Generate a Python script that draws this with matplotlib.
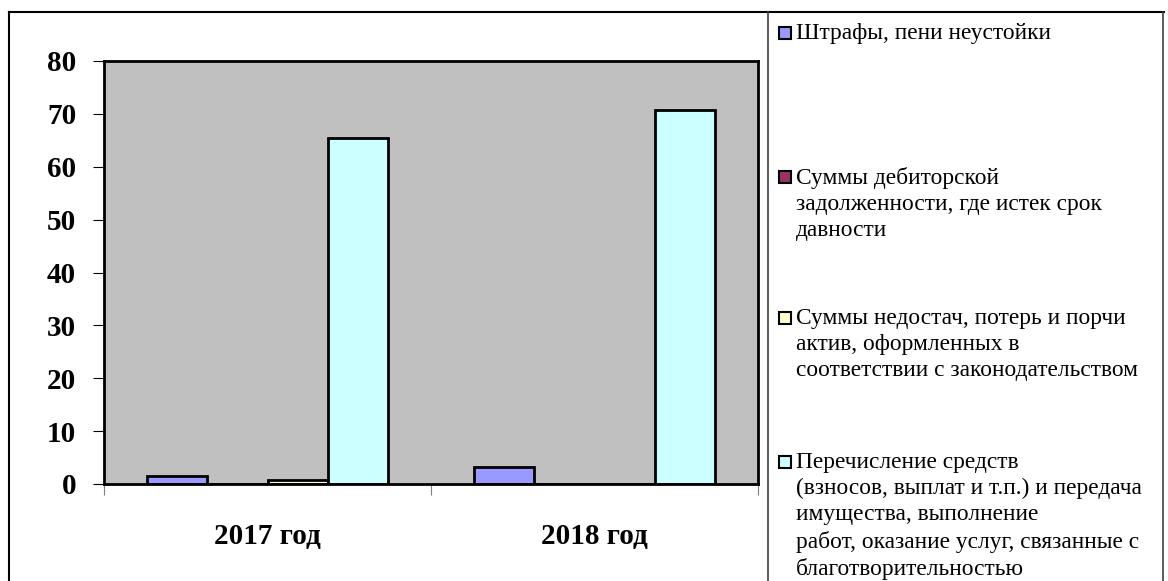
import numpy as np
import matplotlib.pyplot as plt
from matplotlib.patches import Rectangle
from matplotlib.lines import Line2D

plt.rcParams['font.family'] = ['Liberation Serif', 'DejaVu Serif']

years = ['2017 год', '2018 год']
series_names = [
    'Штрафы, пени неустойки',
    'Суммы дебиторской\nзадолженности, где истек срок\nдавности',
    'Суммы недостач, потерь и порчи\nактив, оформленных в\nсоответствии с законодательством',
    'Перечисление средств\n(взносов, выплат и т.п.) и передача\nимущества, выполнение\nработ, оказание услуг, связанные с\nблаготворительностью',
]
fines = [1.5, 3.2]
receivables = [0.0, 0.0]
shortages = [0.7, 0.0]
charity = [65.5, 70.7]
colors = ['#9999FF', '#993366', '#FFFFCC', '#CCFFFF']

W, H = 1168, 581
fig = plt.figure(figsize=(W / 100, H / 100), dpi=100)
ax = fig.add_axes([104 / W, 1 - 484 / H, (758 - 104) / W, (484 - 61) / H])
ax.set_facecolor('#C0C0C0')

x = np.arange(len(years))
bw = 0.1835
all_series = [fines, receivables, shortages, charity]
for i, vals in enumerate(all_series):
    ax.bar(x + (i - 1.5) * bw, vals, bw, color=colors[i], edgecolor='black', linewidth=2)

ax.set_xlim(-0.5, 1.5)
ax.set_ylim(0, 80)
ax.set_yticks(range(0, 81, 10))
ax.set_yticklabels([str(v) for v in range(0, 81, 10)], fontsize=21, fontweight='bold')
ax.set_xticks([-0.5, 0.5, 1.5])
ax.set_xticklabels([])
ax.set_xticks(x, minor=True)
ax.set_xticklabels(years, minor=True, fontsize=21, fontweight='bold')
ax.tick_params(axis='x', which='minor', length=0, pad=28)
ax.tick_params(axis='x', which='major', length=8, color='#808080', direction='out')
ax.tick_params(axis='y', length=8, direction='out', pad=12)
for side in ax.spines:
    ax.spines[side].set_linewidth(2)
    ax.spines[side].set_color('black')

# outer frames
def px_line(x0, y0, x1, y1, lw=1.5, color='black'):
    fig.add_artist(Line2D([x0 / W, x1 / W], [1 - y0 / H, 1 - y1 / H], color=color, lw=lw))

px_line(9, 12, 1164, 12)
px_line(9, 12, 9, 581)
px_line(768, 12, 768, 581, lw=1.2, color='#404040')
px_line(1163, 12, 1163, 581, lw=1.2, color='#404040')

# legend
legend_y = [33, 177, 318, 462]
for name, c, ly in zip(series_names, colors, legend_y):
    fig.add_artist(Rectangle((779 / W, 1 - (ly + 6) / H), 12 / W, 12 / H,
                             facecolor=c, edgecolor='black', lw=1.5,
                             transform=fig.transFigure))
    fig.text(796 / W, 1 - (ly - 10) / H, name, fontsize=16.8, va='top', ha='left',
             linespacing=1.32)

fig.savefig('out.png', dpi=100)
